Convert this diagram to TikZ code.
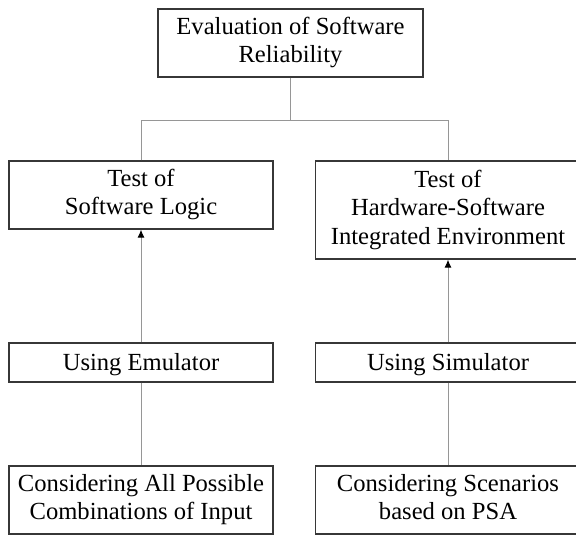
\documentclass[tikz,border=0pt]{standalone}
\usepackage{fontspec}
\setmainfont{Liberation Serif}
\usetikzlibrary{arrows.meta,positioning}
\definecolor{BoxLine}{RGB}{55,55,55}
\definecolor{LinkGray}{RGB}{150,150,150}
\newcommand\boxstrut{\rule[-6pt]{0pt}{28.5pt}}

\begin{document}
\begin{tikzpicture}[x=1pt,y=1pt,>=Latex,
    box/.style={draw=BoxLine,line width=1.4pt,minimum width=265pt,inner sep=2pt,
      align=center,font=\fontsize{24.6}{28.5}\selectfont,
      execute at begin node=\boxstrut,execute at end node=\boxstrut},
    link/.style={draw=LinkGray,line width=0.9pt},
    up/.style={link,-{Latex[color=black,length=8pt,width=7pt]}}]
  \useasboundingbox (0,0) rectangle (576,536);
  \clip (0,0) rectangle (576,536);
  % top level
  \node[box,minimum height=68pt] (eval) at (290.5,493) {Evaluation of Software\\Reliability};
  % the two tests
  \node[box,minimum height=68pt,minimum width=264pt] (logic) at (141,341) {Test of\\Software Logic};
  \node[box,minimum height=98pt] (hwsw) at (448,326) {Test of\\Hardware-Software\\Integrated Environment};
  % tools
  \node[box,minimum height=39pt,minimum width=264pt] (emu) at (141,173.5) {Using Emulator};
  \node[box,minimum height=39pt] (sim) at (448,173.5) {Using Simulator};
  % inputs
  \node[box,minimum height=68pt,minimum width=264pt] (allin) at (141,36) {Considering All Possible\\Combinations of Input};
  \node[box,minimum height=68pt] (psa) at (448,36) {Considering Scenarios\\based on PSA};
  % connectors
  \draw[link] (eval.south) -- ++(0,-43) coordinate (split);
  \draw[link] (logic.north) |- (split) -| (hwsw.north);
  \draw[up] (emu) -- (logic);
  \draw[up] (sim) -- (hwsw);
  \draw[link] (emu) -- (allin);
  \draw[link] (sim) -- (psa);
\end{tikzpicture}
\end{document}
